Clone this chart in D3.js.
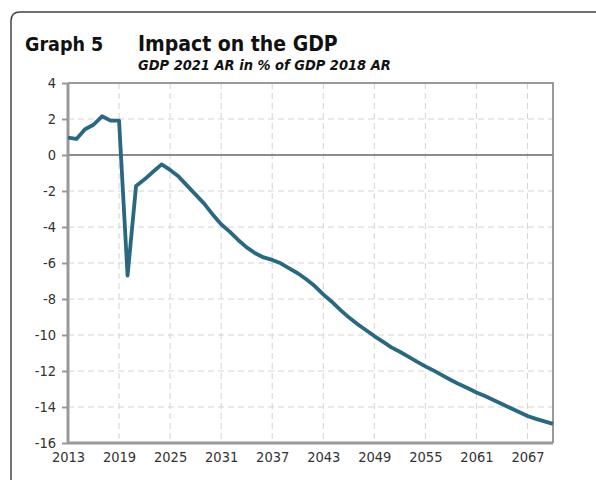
<!DOCTYPE html>
<html>
<head>
<meta charset="utf-8">
<script src="https://cdn.jsdelivr.net/npm/d3@7"></script>
<style>
  body { margin: 0; background: #fff; }
  svg text { font-family: "DejaVu Sans Condensed", "DejaVu Sans", sans-serif; font-stretch: condensed; }
</style>
</head>
<body>
<svg id="chart"></svg>
<script>
// values
var years = d3.range(2013, 2071);
var gdpImpact = [0.96, 0.89, 1.43, 1.68, 2.15, 1.91, 1.91, -6.7, -1.72, -1.35,
  -0.93, -0.52, -0.83, -1.2, -1.7, -2.2, -2.7, -3.3, -3.85, -4.26,
  -4.72, -5.13, -5.46, -5.69, -5.83, -6.02, -6.3, -6.57, -6.9, -7.28,
  -7.74, -8.15, -8.6, -9.02, -9.39, -9.72, -10.06, -10.37, -10.69, -10.93,
  -11.2, -11.48, -11.74, -11.98, -12.24, -12.5, -12.74, -12.96, -13.19, -13.39,
  -13.61, -13.83, -14.06, -14.28, -14.5, -14.66, -14.8, -14.94];
var xTicks = [2013, 2019, 2025, 2031, 2037, 2043, 2049, 2055, 2061, 2067];
var yTicks = [4, 2, 0, -2, -4, -6, -8, -10, -12, -14, -16];

var W = 596, H = 480;
var margin = {top: 83, right: 43, bottom: 37, left: 68};
var width = W - margin.left - margin.right,
    height = H - margin.top - margin.bottom;

var svg = d3.select("#chart").attr("width", W).attr("height", H);

// frame with rounded top-left corner
svg.append("path")
  .attr("d", "M11,490 L11,21 Q11,12 20,12 L600,12")
  .attr("fill", "none")
  .attr("stroke", "#444")
  .attr("stroke-width", 1.5);

// titles
svg.append("text").attr("x", 25).attr("y", 51)
  .style("font-size", "19.5px").style("font-weight", "bold").attr("fill", "#111")
  .text("Graph 5");
svg.append("text").attr("x", 138).attr("y", 51)
  .style("font-size", "21px").style("font-weight", "bold").attr("fill", "#111")
  .text("Impact on the GDP");
svg.append("text").attr("x", 138).attr("y", 70)
  .style("font-size", "14.5px").style("font-weight", "bold").style("font-style", "italic").attr("fill", "#111")
  .text("GDP 2021 AR in % of GDP 2018 AR");

var g = svg.append("g")
  .attr("transform", "translate(" + margin.left + "," + margin.top + ")");

var x = d3.scaleLinear().domain([2013, 2070]).range([0, width]);
var y = d3.scaleLinear().domain([-16, 4]).range([height, 0]);

// grid
g.selectAll(".vgrid").data(xTicks.slice(1)).enter().append("line")
  .attr("x1", function(d) { return x(d); }).attr("x2", function(d) { return x(d); })
  .attr("y1", 0).attr("y2", height)
  .attr("stroke", "#d4d4d4").attr("stroke-dasharray", "6,4").attr("stroke-width", 1);
g.selectAll(".hgrid").data(yTicks.filter(function(d) { return d > -16 && d < 4; })).enter().append("line")
  .attr("x1", 0).attr("x2", width)
  .attr("y1", function(d) { return y(d); }).attr("y2", function(d) { return y(d); })
  .attr("stroke", "#d4d4d4").attr("stroke-dasharray", "6,4").attr("stroke-width", 1);

// top and right border
g.append("path")
  .attr("d", "M0,0 L" + width + ",0 L" + width + "," + height)
  .attr("fill", "none").attr("stroke", "#999").attr("stroke-width", 2);

// zero line
g.append("line")
  .attr("x1", 0).attr("x2", width).attr("y1", y(0)).attr("y2", y(0))
  .attr("stroke", "#8c8c8c").attr("stroke-width", 2);

// hyphen minus like the original
var fmt = function(d) { return String(d); };

// axes
var yAxis = g.append("g")
  .call(d3.axisLeft(y).tickValues(yTicks).tickSize(6).tickPadding(6).tickFormat(fmt));
var xAxis = g.append("g")
  .attr("transform", "translate(0," + height + ")")
  .call(d3.axisBottom(x).tickValues(xTicks).tickSize(0).tickPadding(9).tickFormat(fmt));

[xAxis, yAxis].forEach(function(a) {
  a.select(".domain").attr("stroke", "#999").attr("stroke-width", 3);
  a.selectAll(".tick line").attr("stroke", "#999").attr("stroke-width", 2);
  a.selectAll("text").attr("fill", "#333").style("font-size", "14.5px");
});
yAxis.select(".domain").attr("d", "M0," + height + "V0");
xAxis.select(".domain").attr("d", "M0,0H" + width);

// line, straight segments between yearly points
var line = d3.line()
  .x(function(d, i) { return x(years[i]); })
  .y(function(d) { return y(d); });

g.append("path")
  .datum(gdpImpact)
  .attr("d", line)
  .attr("fill", "none")
  .attr("stroke", "#2a6881")
  .attr("stroke-width", 3.8)
  .attr("stroke-linejoin", "round");
</script>
</body>
</html>
